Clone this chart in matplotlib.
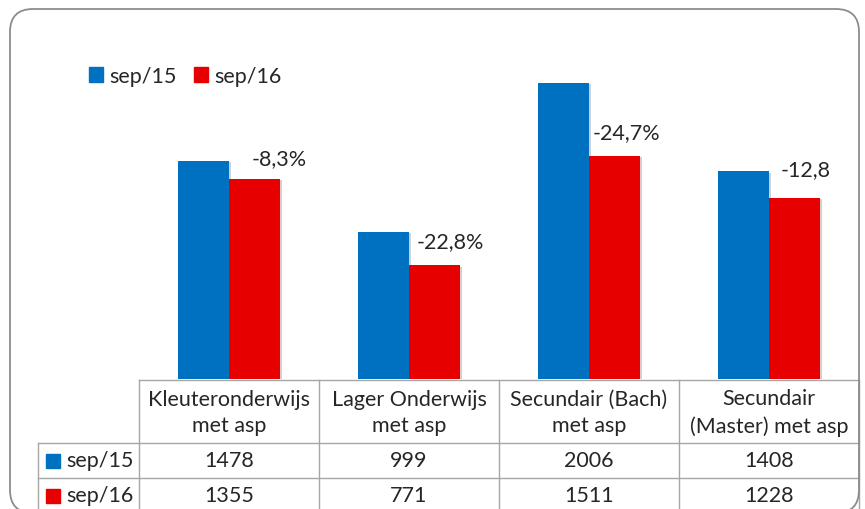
import numpy as np
import matplotlib
matplotlib.use('Agg')
import matplotlib.pyplot as plt
import matplotlib.patheffects as pe
from matplotlib.patches import FancyBboxPatch, Patch

plt.rcParams['font.family'] = ['Lato', 'DejaVu Sans']

categories = ["Kleuteronderwijs\nmet asp", "Lager Onderwijs\nmet asp",
              "Secundair (Bach)\nmet asp", "Secundair\n(Master) met asp"]
series = ["sep/15", "sep/16"]
sep15 = [1478, 999, 2006, 1408]
sep16 = [1355, 771, 1511, 1228]
pct_labels = ["-8,3%", "-22,8%", "-24,7%", "-12,8"]

# label offsets from top-left of the red bar, in pixels (right, up)
label_dx = [23, 8, 4, 12]
label_dy = [21, 24, 24, 29]

blue = "#0070C0"
red = "#E60000"
gridc = "#A6A6A6"
txtc = "#262626"
fs = 15.5

W, H = 865, 510
fig = plt.figure(figsize=(W / 100, H / 100), dpi=100)

ax = fig.add_axes([139 / W, 1 - 380 / H, 720 / W, 369 / H])
ax.set_xlim(-0.5, 3.5)
ax.set_ylim(0, 2500)
ax.axis('off')

x = np.arange(len(categories))
w = 51 / 180
shadow = [pe.SimplePatchShadow(offset=(1.5, -1), alpha=0.2), pe.Normal()]
b1 = ax.bar(x - w / 2, sep15, w, color=blue, label=series[0], path_effects=shadow)
b2 = ax.bar(x + w / 2, sep16, w, color=red, label=series[1], path_effects=shadow)

for i, lbl in enumerate(pct_labels):
    ax.annotate(lbl, xy=(x[i], sep16[i]), xytext=(label_dx[i] * 0.72, label_dy[i] * 0.72),
                textcoords='offset points', ha='left', va='center', fontsize=fs, color=txtc)

ax.legend(handles=[Patch(color=blue), Patch(color=red)], labels=series, ncol=2,
          loc='center left', bbox_to_anchor=(78 / W, 1 - 77 / H), bbox_transform=fig.transFigure,
          frameon=False, fontsize=fs, handlelength=0.65, handleheight=0.65,
          handletextpad=0.3, columnspacing=0.8, borderpad=0, labelcolor=txtc)

# data table below the bars
tax = fig.add_axes([139 / W, 1 - 515 / H, 720 / W, 135 / H])
tax.set_xlim(-0.5, 3.5)
tax.set_ylim(515, 380)
tax.axis('off')
x_left = -0.5 - 101 / 180
lk = dict(color=gridc, lw=1, clip_on=False)
tax.plot([-0.5, 3.5], [381, 381], **lk)
for yy in [444, 479, 514]:
    tax.plot([x_left, 3.5], [yy, yy], **lk)
tax.plot([x_left, x_left], [444, 515], **lk)
for i in range(len(categories) + 1):
    tax.plot([i - 0.5, i - 0.5], [381, 515], **lk)

for i, cat in enumerate(categories):
    tax.text(x[i], 413, cat, ha='center', va='center', fontsize=fs, color=txtc, linespacing=1.4)
    tax.text(x[i], 461.5, str(sep15[i]), ha='center', va='center', fontsize=fs, color=txtc)
    tax.text(x[i], 496.5, str(sep16[i]), ha='center', va='center', fontsize=fs, color=txtc)

for yy, name, col in [(461.5, series[0], blue), (496.5, series[1], red)]:
    tax.plot([x_left + 14.5 / 180], [yy], marker='s', ms=9.5, color=col, clip_on=False)
    tax.text(x_left + 28 / 180, yy, name, ha='left', va='center', fontsize=fs, color=txtc)

# rounded chart border
border = FancyBboxPatch((0.10, -0.04), 8.49, 5.04, boxstyle="round,pad=0,rounding_size=0.23",
                        transform=fig.dpi_scale_trans, fill=False, edgecolor="#8C8C8C", lw=1.3)
fig.patches.append(border)

fig.savefig("out.png", dpi=100)
